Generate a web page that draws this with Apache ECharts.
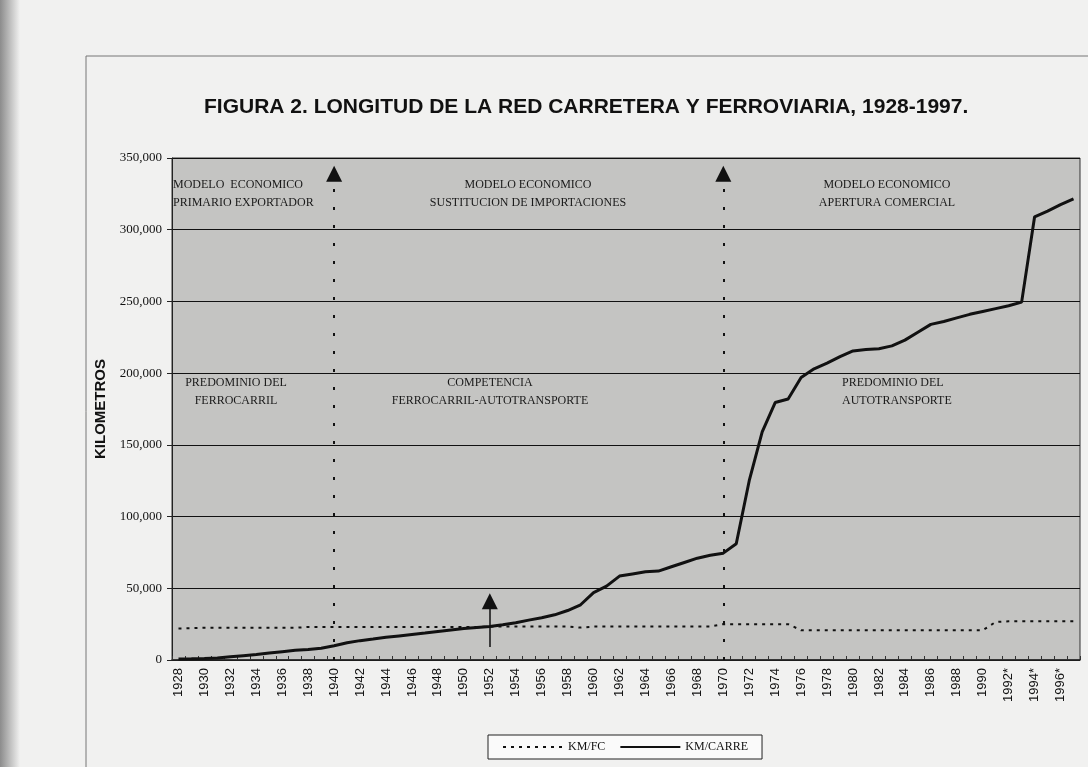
<!DOCTYPE html>
<html>
<head>
<meta charset="utf-8">
<script src="https://cdn.jsdelivr.net/npm/echarts@6/dist/echarts.min.js"></script>
<style>
  html, body { margin: 0; padding: 0; background: #f1f1f0; }
  #chart { width: 1088px; height: 767px; }
</style>
</head>
<body>
<div id="chart"></div>
<script>
// categorias (anios), las marcadas con * son estimaciones
const years = [
  '1928', '1929', '1930', '1931', '1932', '1933', '1934', '1935', '1936', '1937',
  '1938', '1939', '1940', '1941', '1942', '1943', '1944', '1945', '1946', '1947',
  '1948', '1949', '1950', '1951', '1952', '1953', '1954', '1955', '1956', '1957',
  '1958', '1959', '1960', '1961', '1962', '1963', '1964', '1965', '1966', '1967',
  '1968', '1969', '1970', '1971', '1972', '1973', '1974', '1975', '1976', '1977',
  '1978', '1979', '1980', '1981', '1982', '1983', '1984', '1985', '1986', '1987',
  '1988', '1989', '1990', '1991', '1992*', '1993*', '1994*', '1995*', '1996*', '1997*'
]

// km de via ferrea
const kmFC = [
  22000, 22200, 22500, 22500, 22500, 22500, 22500, 22500, 22500, 22500,
  23000, 23000, 23000, 23000, 23000, 23000, 23000, 23000, 23000, 23000,
  23000, 23000, 23000, 23000, 23300, 23300, 23300, 23300, 23300, 23300,
  23300, 22600, 23300, 23300, 23300, 23300, 23300, 23300, 23300, 23300,
  23300, 23300, 25000, 25000, 25000, 25000, 25000, 25000, 20700, 20700,
  20700, 20700, 20700, 20700, 20700, 20700, 20700, 20700, 20700, 20700,
  20700, 20700, 20700, 26500, 27000, 27000, 27000, 27000, 27000, 27000
]

// km de carreteras
const kmCarre = [
  700, 800, 1000, 1400, 2200, 3000, 3800, 4800, 5800, 6800,
  7400, 8200, 9900, 12000, 13500, 14600, 15800, 16800, 17800, 18800,
  19900, 20900, 21900, 22600, 23300, 24600, 26000, 27800, 29500, 31500,
  34500, 38500, 47000, 51500, 58500, 60000, 61500, 62000, 65000, 68000,
  71000, 73000, 74500, 81000, 125000, 159000, 179500, 182000, 197000, 203000,
  207000, 211500, 215500, 216500, 217000, 219000, 223000, 228500, 234000, 236000,
  238500, 241000, 243000, 245000, 247000, 249500, 309000, 313000, 317500, 321500
]

const yTicks = [0, 50000, 100000, 150000, 200000, 250000, 300000, 350000]

// textos de las etapas
const notes = [
  { text: 'MODELO  ECONOMICO\nPRIMARIO EXPORTADOR', x: 173, y: 176, align: 'left' },
  { text: 'MODELO ECONOMICO\nSUSTITUCION DE IMPORTACIONES', x: 528, y: 176, align: 'center' },
  { text: 'MODELO ECONOMICO\nAPERTURA COMERCIAL', x: 887, y: 176, align: 'center' },
  { text: 'PREDOMINIO DEL\nFERROCARRIL', x: 236, y: 374, align: 'center' },
  { text: 'COMPETENCIA\nFERROCARRIL-AUTOTRANSPORTE', x: 490, y: 374, align: 'center' },
  { text: 'PREDOMINIO DEL\nAUTOTRANSPORTE', x: 842, y: 374, align: 'left' }
]

const serif = '"Liberation Serif", "DejaVu Serif", serif'
const sans = '"Liberation Sans", Arial, sans-serif'

let myChart = echarts.init(document.getElementById('chart'))

let graphics = [
  {
    type: 'rect',
    left: 0,
    top: 0,
    shape: { width: 20, height: 767 },
    style: {
      fill: new echarts.graphic.LinearGradient(0, 0, 1, 0, [
        { offset: 0, color: '#8c8c8c' },
        { offset: 1, color: '#f1f1f0' }
      ])
    },
    silent: true
  },
  {
    type: 'polyline',
    shape: { points: [[86, 767], [86, 56], [1088, 56]] },
    style: { stroke: '#777', lineWidth: 1, fill: null },
    silent: true
  }
]
notes.forEach(n => {
  graphics.push({
    type: 'text',
    x: n.x,
    y: n.y,
    z: 10,
    style: {
      text: n.text,
      fill: '#1a1a1a',
      font: '12px ' + serif,
      align: n.align,
      lineHeight: 18
    }
  })
})

let option = {
  backgroundColor: '#f1f1f0',
  animation: false,
  title: {
    text: 'FIGURA 2. LONGITUD DE LA RED CARRETERA Y FERROVIARIA, 1928-1997.',
    left: 199,
    top: 92,
    textStyle: {
      fontFamily: sans,
      fontWeight: 'bold',
      fontSize: 21,
      color: '#111'
    }
  },
  legend: {
    left: 488,
    top: 735,
    padding: [6, 14],
    itemGap: 14,
    itemWidth: 60,
    itemHeight: 12,
    backgroundColor: '#fafafa',
    borderColor: '#222',
    borderWidth: 1,
    borderRadius: 0,
    itemStyle: { opacity: 0 },
    textStyle: { fontFamily: serif, fontSize: 12, color: '#111' },
    data: ['KM/FC', 'KM/CARRE']
  },
  grid: {
    left: 172,
    right: 8,
    top: 158,
    bottom: 107,
    show: true,
    backgroundColor: '#c4c4c2',
    borderColor: '#333',
    borderWidth: 1
  },
  xAxis: {
    type: 'category',
    data: years,
    boundaryGap: true,
    axisLine: { lineStyle: { color: '#222', width: 1.5 } },
    axisTick: { show: true, inside: true, length: 4, interval: 0, lineStyle: { color: '#333' } },
    axisLabel: {
      interval: 1,
      rotate: 90,
      margin: 8,
      fontFamily: sans,
      fontSize: 13,
      color: '#111'
    },
    splitLine: { show: false }
  },
  yAxis: {
    type: 'value',
    min: 0,
    max: 350000,
    interval: 50000,
    name: 'KILOMETROS',
    nameLocation: 'middle',
    nameGap: 47,
    nameTextStyle: { fontFamily: sans, fontWeight: 'bold', fontSize: 15, color: '#111' },
    axisLine: { show: true, lineStyle: { color: '#222' } },
    axisTick: { show: true, length: 5, lineStyle: { color: '#222' } },
    axisLabel: {
      fontFamily: serif,
      fontSize: 13,
      color: '#111',
      margin: 10,
      formatter: v => (yTicks.indexOf(v) >= 0 ? v.toLocaleString('en-US') : '')
    },
    splitLine: { lineStyle: { color: '#111', width: 1 } }
  },
  series: [
    {
      name: 'KM/FC',
      type: 'line',
      data: kmFC,
      symbol: 'none',
      lineStyle: { color: '#111', width: 2, type: [3, 5] },
      itemStyle: { color: '#111' },
      z: 3
    },
    {
      name: 'KM/CARRE',
      type: 'line',
      data: kmCarre,
      symbol: 'none',
      lineStyle: { color: '#111', width: 3 },
      itemStyle: { color: '#111' },
      z: 4,
      markLine: {
        silent: true,
        label: { show: false },
        symbol: ['none', 'triangle'],
        symbolSize: [16, 16],
        data: [
          [
            { coord: ['1940', 0], lineStyle: { color: '#111', type: [3, 15], width: 2 } },
            { coord: ['1940', 339000] }
          ],
          [
            { coord: ['1970', 0], lineStyle: { color: '#111', type: [3, 15], width: 2 } },
            { coord: ['1970', 339000] }
          ],
          [
            { coord: ['1952', 9000], lineStyle: { color: '#111', type: 'solid', width: 1.5 } },
            { coord: ['1952', 41000] }
          ]
        ]
      }
    }
  ],
  graphic: graphics
}

myChart.setOption(option)
</script>
</body>
</html>
